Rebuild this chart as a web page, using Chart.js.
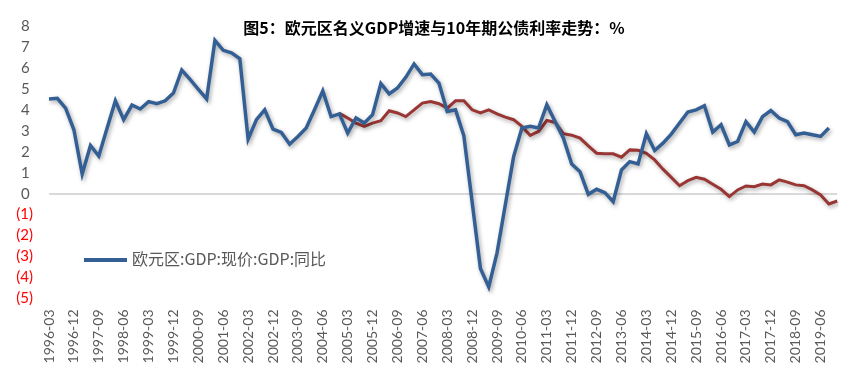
<!DOCTYPE html>
<html>
<head>
<meta charset="utf-8">
<script src="https://cdn.jsdelivr.net/npm/chart.js@4/dist/chart.umd.min.js"></script>
<style>
  html, body { margin: 0; padding: 0; background: #ffffff; }
  #wrap { position: relative; width: 865px; height: 368px; overflow: hidden; }
  #title { position: absolute; left: 0; width: 868px; top: 16px; text-align: center;
           font-family: "Noto Sans CJK SC"; font-weight: bold; font-size: 16px; color: #000; line-height: 22px; }
  #legend { position: absolute; left: 84px; top: 247px; font-family: "Noto Sans CJK SC"; font-size: 16px;
            color: #595959; line-height: 22px; white-space: nowrap; }
  #legend .sw { display: inline-block; width: 43px; height: 4px; background: #335f94; vertical-align: middle;
                margin-right: 5px; position: relative; top: -1px; }
</style>
</head>
<body>
<div id="wrap">
  <canvas id="c" width="865" height="368"></canvas>
  <div id="title">图5：欧元区名义GDP增速与10年期公债利率走势：%</div>
  <div id="legend"><span class="sw"></span>欧元区:GDP:现价:GDP:同比</div>
</div>
<script>
// Quarterly categories
const categories = [
  "1996-03","1996-06","1996-09","1996-12","1997-03","1997-06","1997-09","1997-12",
  "1998-03","1998-06","1998-09","1998-12","1999-03","1999-06","1999-09","1999-12",
  "2000-03","2000-06","2000-09","2000-12","2001-03","2001-06","2001-09","2001-12",
  "2002-03","2002-06","2002-09","2002-12","2003-03","2003-06","2003-09","2003-12",
  "2004-03","2004-06","2004-09","2004-12","2005-03","2005-06","2005-09","2005-12",
  "2006-03","2006-06","2006-09","2006-12","2007-03","2007-06","2007-09","2007-12",
  "2008-03","2008-06","2008-09","2008-12","2009-03","2009-06","2009-09","2009-12",
  "2010-03","2010-06","2010-09","2010-12","2011-03","2011-06","2011-09","2011-12",
  "2012-03","2012-06","2012-09","2012-12","2013-03","2013-06","2013-09","2013-12",
  "2014-03","2014-06","2014-09","2014-12","2015-03","2015-06","2015-09","2015-12",
  "2016-03","2016-06","2016-09","2016-12","2017-03","2017-06","2017-09","2017-12",
  "2018-03","2018-06","2018-09","2018-12","2019-03","2019-06","2019-09","2019-12"
];

// Euro area nominal GDP, y/y %
const gdpYoY = [
  4.52, 4.55, 4.08, 3.05, 0.94, 2.30, 1.80, 3.12,
  4.43, 3.53, 4.23, 4.04, 4.39, 4.29, 4.43, 4.80,
  5.90, 5.45, 4.98, 4.52, 7.31, 6.84, 6.72, 6.44,
  2.60, 3.53, 4.00, 3.08, 2.92, 2.36, 2.73, 3.13,
  4.00, 4.90, 3.68, 3.81, 2.89, 3.61, 3.37, 3.77,
  5.25, 4.76, 5.04, 5.55, 6.19, 5.68, 5.71, 5.28,
  3.92, 4.00, 2.76, -0.40, -3.57, -4.45, -2.82, -0.53,
  1.77, 3.13, 3.21, 3.13, 4.24, 3.44, 2.65, 1.42,
  1.05, -0.03, 0.21, 0.05, -0.38, 1.13, 1.53, 1.42,
  2.86, 2.06, 2.41, 2.84, 3.37, 3.90, 4.00, 4.20,
  2.94, 3.29, 2.33, 2.49, 3.44, 2.94, 3.68, 3.97,
  3.61, 3.44, 2.81, 2.89, 2.81, 2.73, 3.13, null
];

// 10-year government bond yield, %
const bond10y = [
  null, null, null, null, null, null, null, null,
  null, null, null, null, null, null, null, null,
  null, null, null, null, null, null, null, null,
  null, null, null, null, null, null, null, null,
  null, null, null, 3.84, 3.61, 3.37, 3.21, 3.37,
  3.48, 3.96, 3.85, 3.68, 4.00, 4.32, 4.40, 4.29,
  4.08, 4.43, 4.43, 4.00, 3.85, 4.00, 3.81, 3.65,
  3.53, 3.21, 2.78, 2.97, 3.49, 3.40, 2.86, 2.79,
  2.65, 2.28, 1.93, 1.90, 1.90, 1.74, 2.09, 2.07,
  1.93, 1.61, 1.17, 0.78, 0.38, 0.62, 0.78, 0.69,
  0.45, 0.21, -0.14, 0.18, 0.37, 0.33, 0.46, 0.42,
  0.66, 0.55, 0.42, 0.38, 0.18, -0.06, -0.49, -0.35
];

const yMin = -5, yMax = 8, yStep = 1;
const labelEvery = 3;

const shadowPlugin = {
  id: 'shadow',
  beforeDatasetDraw(chart) {
    const ctx = chart.ctx;
    ctx.save();
    ctx.shadowColor = 'rgba(0,0,0,0.35)';
    ctx.shadowBlur = 4;
    ctx.shadowOffsetX = 1.5;
    ctx.shadowOffsetY = 2;
  },
  afterDatasetDraw(chart) { chart.ctx.restore(); }
};

new Chart(document.getElementById('c'), {
  type: 'line',
  data: {
    labels: categories,
    datasets: [
      { label: '10年期公债利率', data: bond10y, borderColor: '#993634', borderWidth: 3, pointRadius: 0, tension: 0, spanGaps: false, order: 2 },
      { label: '欧元区:GDP:现价:GDP:同比', data: gdpYoY, borderColor: '#335f94', borderWidth: 3.5, pointRadius: 0, tension: 0, spanGaps: false, order: 1 }
    ]
  },
  options: {
    responsive: false,
    devicePixelRatio: 1,
    animation: false,
    layout: { padding: { top: 26, right: 23, left: 0, bottom: 0 } },
    plugins: { legend: { display: false }, title: { display: false }, tooltip: { enabled: false } },
    scales: {
      x: {
        offset: false,
        grid: { display: false, drawTicks: false },
        border: { display: false },
        afterFit(s) { s.height = 69.5; },
        ticks: {
          autoSkip: false, maxRotation: 90, minRotation: 90, padding: 11,
          color: '#595959', font: { family: 'Lato', size: 14 },
          callback(v, i) { return i % labelEvery === 0 ? categories[i] : ''; }
        }
      },
      y: {
        min: yMin, max: yMax,
        grid: {
          drawTicks: false,
          color: c => c.tick && c.tick.value === 0 ? '#d9d9d9' : 'rgba(0,0,0,0)',
          lineWidth: 2
        },
        border: { display: false },
        afterFit(s) { s.width = 49; },
        ticks: {
          autoSkip: false,
          stepSize: yStep, padding: 16,
          font: { family: 'Lato', size: 15 },
          color: c => c.tick.value < 0 ? '#ff0000' : '#595959',
          callback(v) { return v < 0 ? '(' + (-v) + ')' : v + '\u2008'; }
        }
      }
    }
  },
  plugins: [shadowPlugin]
});
</script>
</body>
</html>
